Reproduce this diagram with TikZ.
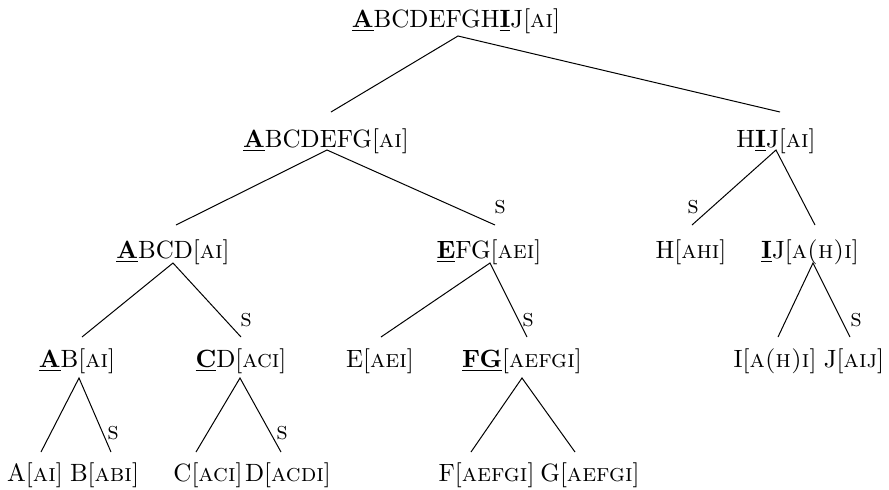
\documentclass[tikz,border=0pt]{standalone}
\usetikzlibrary{calc}
\newcommand{\ub}[1]{\underline{\textbf{#1}}}
\begin{document}
\begin{tikzpicture}[x=0.4pt,y=-0.4pt,
  lbl/.style={inner sep=0pt,anchor=base},
  slab/.style={inner sep=0pt},
  br/.style={line width=0.4pt}]
\useasboundingbox (0,0) rectangle (889,489);
% level 1
\node[lbl] (root) at (456,27) {\ub{A}BCDEFGH\ub{I}J[\textsc{ai}]};
% level 2
\node[lbl] (n1) at (326,147) {\ub{A}BCDEFG[\textsc{ai}]};
\node[lbl] (n2) at (776,147) {H\ub{I}J[\textsc{ai}]};
% level 3
\node[lbl] (n11) at (173,258) {\ub{A}BCD[\textsc{ai}]};
\node[lbl] (n12) at (489,258) {\ub{E}FG[\textsc{aei}]};
\node[lbl] (n21) at (691,258) {H[\textsc{ahi}]};
\node[lbl] (n22) at (810,258) {\ub{I}J[\textsc{a(h)i}]};
% level 4
\node[lbl] (n111) at (77,367) {\ub{A}B[\textsc{ai}]};
\node[lbl] (n112) at (241,367) {\ub{C}D[\textsc{aci}]};
\node[lbl] (n121) at (380,367) {E[\textsc{aei}]};
\node[lbl] (n122) at (522,367) {\ub{FG}[\textsc{aefgi}]};
\node[lbl] (n221) at (775,367) {I[\textsc{a(h)i}]};
\node[lbl] (n222) at (854,367) {J[\textsc{aij}]};
% level 5
\node[lbl] (la) at (35,481) {A[\textsc{ai}]};
\node[lbl] (lb) at (104.5,481) {B[\textsc{abi}]};
\node[lbl] (lc) at (208,481) {C[\textsc{aci}]};
\node[lbl] (ld) at (288,481) {D[\textsc{acdi}]};
\node[lbl] (lf) at (486.5,481) {F[\textsc{aefgi}]};
\node[lbl] (lg) at (590,481) {G[\textsc{aefgi}]};
% edges
\draw[br] ($(n1.base)+(5,-35)$) -- ($(root.base)+(2,9)$) -- ($(n2.base)+(4,-35)$);
\draw[br] ($(n11.base)+(3,-33)$) -- ($(n1.base)+(1,3)$) -- ($(n12.base)+(6,-33)$);
\draw[br] ($(n21.base)+(1,-33)$) -- ($(n2.base)+(0,3)$) -- ($(n22.base)+(5,-33)$);
\draw[br] ($(n111.base)+(5,-30)$) -- ($(n11.base)+(0,5)$) -- ($(n112.base)+(0,-30)$);
\draw[br] ($(n121.base)+(1,-30)$) -- ($(n12.base)+(1,5)$) -- ($(n122.base)+(5,-30)$);
\draw[br] ($(n221.base)+(3,-30)$) -- ($(n22.base)+(3,5)$) -- ($(n222.base)+(-4,-30)$);
\draw[br] ($(la.base)+(6,-29)$) -- ($(n111.base)+(2,11)$) -- ($(lb.base)+(6.5,-29)$);
\draw[br] ($(lc.base)+(-12,-29)$) -- ($(n112.base)+(-1,11)$) -- ($(ld.base)+(-7,-29)$);
\draw[br] ($(lf.base)+(-15.5,-29)$) -- ($(n122.base)+(0,11)$) -- ($(lg.base)+(-15,-29)$);
% s labels
\node[slab] (s1) at (500,207) {\textsc{s}};
\node[slab] (s2) at (693,207) {\textsc{s}};
\node[slab] (s3) at (246,320) {\textsc{s}};
\node[slab] (s4) at (528,320) {\textsc{s}};
\node[slab] (s5) at (856,320) {\textsc{s}};
\node[slab] (s6) at (113,433) {\textsc{s}};
\node[slab] (s7) at (282,433) {\textsc{s}};
\end{tikzpicture}
\end{document}
